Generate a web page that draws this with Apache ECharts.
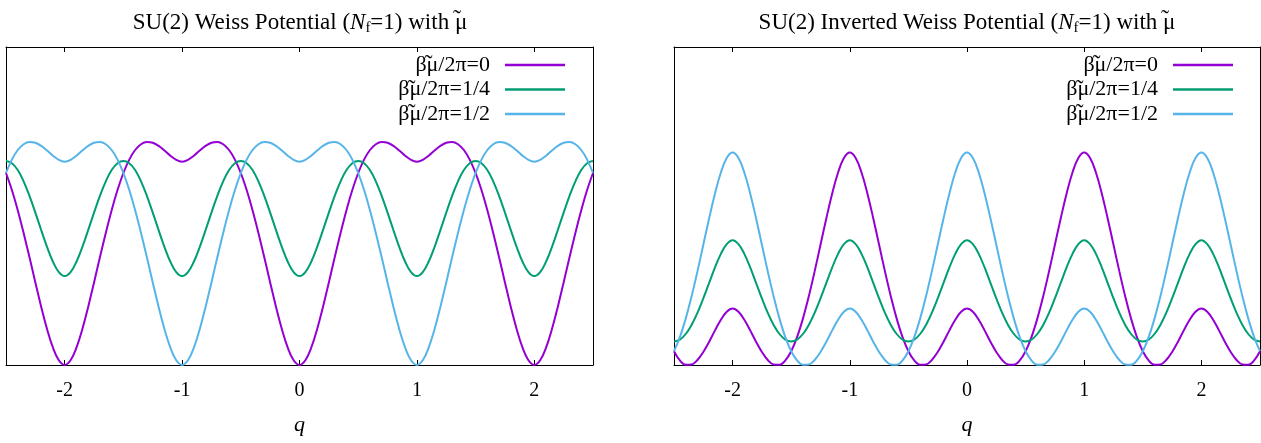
<!DOCTYPE html>
<html>
<head>
<meta charset="utf-8">
<title>SU(2) Weiss Potential</title>
<script src="https://cdn.jsdelivr.net/npm/echarts@6/dist/echarts.min.js"></script>
<style>
  html, body { margin: 0; padding: 0; background: #fff; }
  #chart { width: 1261px; height: 443px; }
</style>
</head>
<body>
<div id="chart"></div>
<script>
// q grid, -2.5 .. 2.5 in steps of 0.05
const qValues = [
  -2.5, -2.45, -2.4, -2.35, -2.3, -2.25, -2.2, -2.15, -2.1, -2.05,
  -2.0, -1.95, -1.9, -1.85, -1.8, -1.75, -1.7, -1.65, -1.6, -1.55,
  -1.5, -1.45, -1.4, -1.35, -1.3, -1.25, -1.2, -1.15, -1.1, -1.05,
  -1.0, -0.95, -0.9, -0.85, -0.8, -0.75, -0.7, -0.65, -0.6, -0.55,
  -0.5, -0.45, -0.4, -0.35, -0.3, -0.25, -0.2, -0.15, -0.1, -0.05,
  0.0, 0.05, 0.1, 0.15, 0.2, 0.25, 0.3, 0.35, 0.4, 0.45,
  0.5, 0.55, 0.6, 0.65, 0.7, 0.75, 0.8, 0.85, 0.9, 0.95,
  1.0, 1.05, 1.1, 1.15, 1.2, 1.25, 1.3, 1.35, 1.4, 1.45,
  1.5, 1.55, 1.6, 1.65, 1.7, 1.75, 1.8, 1.85, 1.9, 1.95,
  2.0, 2.05, 2.1, 2.15, 2.2, 2.25, 2.3, 2.35, 2.4, 2.45, 2.5
];
const qTicks = [-2, -1, 0, 1, 2];
const seriesNames = ['β\u03bc\u0303/2π=0', 'β\u03bc\u0303/2π=1/4', 'β\u03bc\u0303/2π=1/2'];
const colors = ['#9400d3', '#009e73', '#56b4e9'];

// left panel: Weiss potential (arbitrary units, 0 = bottom of frame)
const weissMu0 = [
  192.0, 175.0, 154.8, 132.1, 107.7, 82.6, 58.1, 35.8, 17.4, 4.7,
  0, 4.7, 17.4, 35.8, 58.1, 82.6, 107.7, 132.1, 154.8, 175.0,
  192.0, 205.4, 215.0, 220.8, 223.1, 222.3, 219.2, 214.4, 209.3, 205.1,
  203.3, 205.1, 209.3, 214.4, 219.2, 222.3, 223.1, 220.8, 215.0, 205.4,
  192.0, 175.0, 154.8, 132.1, 107.7, 82.6, 58.1, 35.8, 17.4, 4.7,
  0, 4.7, 17.4, 35.8, 58.1, 82.6, 107.7, 132.1, 154.8, 175.0,
  192.0, 205.4, 215.0, 220.8, 223.1, 222.3, 219.2, 214.4, 209.3, 205.1,
  203.3, 205.1, 209.3, 214.4, 219.2, 222.3, 223.1, 220.8, 215.0, 205.4,
  192.0, 175.0, 154.8, 132.1, 107.7, 82.6, 58.1, 35.8, 17.4, 4.7,
  0, 4.7, 17.4, 35.8, 58.1, 82.6, 107.7, 132.1, 154.8, 175.0, 192.0
];
const weissMuQuarter = [
  204.0, 201.8, 195.0, 183.7, 169.1, 152.4, 134.9, 117.9, 103.3, 92.9,
  88.9, 92.9, 103.3, 117.9, 134.9, 152.4, 169.1, 183.7, 195.0, 201.8,
  204.0, 201.8, 195.0, 183.7, 169.1, 152.4, 134.9, 117.9, 103.3, 92.9,
  88.9, 92.9, 103.3, 117.9, 134.9, 152.4, 169.1, 183.7, 195.0, 201.8,
  204.0, 201.8, 195.0, 183.7, 169.1, 152.4, 134.9, 117.9, 103.3, 92.9,
  88.9, 92.9, 103.3, 117.9, 134.9, 152.4, 169.1, 183.7, 195.0, 201.8,
  204.0, 201.8, 195.0, 183.7, 169.1, 152.4, 134.9, 117.9, 103.3, 92.9,
  88.9, 92.9, 103.3, 117.9, 134.9, 152.4, 169.1, 183.7, 195.0, 201.8,
  204.0, 201.8, 195.0, 183.7, 169.1, 152.4, 134.9, 117.9, 103.3, 92.9,
  88.9, 92.9, 103.3, 117.9, 134.9, 152.4, 169.1, 183.7, 195.0, 201.8, 204.0
];
const weissMuHalf = [
  192.0, 205.4, 215.0, 220.8, 223.1, 222.3, 219.2, 214.4, 209.3, 205.1,
  203.3, 205.1, 209.3, 214.4, 219.2, 222.3, 223.1, 220.8, 215.0, 205.4,
  192.0, 175.0, 154.8, 132.1, 107.7, 82.6, 58.1, 35.8, 17.4, 4.7,
  0, 4.7, 17.4, 35.8, 58.1, 82.6, 107.7, 132.1, 154.8, 175.0,
  192.0, 205.4, 215.0, 220.8, 223.1, 222.3, 219.2, 214.4, 209.3, 205.1,
  203.3, 205.1, 209.3, 214.4, 219.2, 222.3, 223.1, 220.8, 215.0, 205.4,
  192.0, 175.0, 154.8, 132.1, 107.7, 82.6, 58.1, 35.8, 17.4, 4.7,
  0, 4.7, 17.4, 35.8, 58.1, 82.6, 107.7, 132.1, 154.8, 175.0,
  192.0, 205.4, 215.0, 220.8, 223.1, 222.3, 219.2, 214.4, 209.3, 205.1,
  203.3, 205.1, 209.3, 214.4, 219.2, 222.3, 223.1, 220.8, 215.0, 205.4, 192.0
];

// right panel: inverted Weiss potential
const invMu0 = [
  13.8, 4.6, 0.2, 0.5, 5.0, 13.0, 23.3, 34.6, 45.2, 53.3,
  56.5, 53.3, 45.2, 34.6, 23.3, 13.0, 5.0, 0.5, 0.2, 4.6,
  13.8, 27.9, 46.4, 68.6, 93.6, 120.2, 146.8, 171.6, 192.5, 207.0,
  212.5, 207.0, 192.5, 171.6, 146.8, 120.2, 93.6, 68.6, 46.4, 27.9,
  13.8, 4.6, 0.2, 0.5, 5.0, 13.0, 23.3, 34.6, 45.2, 53.3,
  56.5, 53.3, 45.2, 34.6, 23.3, 13.0, 5.0, 0.5, 0.2, 4.6,
  13.8, 27.9, 46.4, 68.6, 93.6, 120.2, 146.8, 171.6, 192.5, 207.0,
  212.5, 207.0, 192.5, 171.6, 146.8, 120.2, 93.6, 68.6, 46.4, 27.9,
  13.8, 4.6, 0.2, 0.5, 5.0, 13.0, 23.3, 34.6, 45.2, 53.3,
  56.5, 53.3, 45.2, 34.6, 23.3, 13.0, 5.0, 0.5, 0.2, 4.6, 13.8
];
const invMuQuarter = [
  23.6, 25.4, 31.0, 40.1, 52.2, 66.6, 82.2, 97.6, 111.1, 120.9,
  124.8, 120.9, 111.1, 97.6, 82.2, 66.6, 52.2, 40.1, 31.0, 25.4,
  23.6, 25.4, 31.0, 40.1, 52.2, 66.6, 82.2, 97.6, 111.1, 120.9,
  124.8, 120.9, 111.1, 97.6, 82.2, 66.6, 52.2, 40.1, 31.0, 25.4,
  23.6, 25.4, 31.0, 40.1, 52.2, 66.6, 82.2, 97.6, 111.1, 120.9,
  124.8, 120.9, 111.1, 97.6, 82.2, 66.6, 52.2, 40.1, 31.0, 25.4,
  23.6, 25.4, 31.0, 40.1, 52.2, 66.6, 82.2, 97.6, 111.1, 120.9,
  124.8, 120.9, 111.1, 97.6, 82.2, 66.6, 52.2, 40.1, 31.0, 25.4,
  23.6, 25.4, 31.0, 40.1, 52.2, 66.6, 82.2, 97.6, 111.1, 120.9,
  124.8, 120.9, 111.1, 97.6, 82.2, 66.6, 52.2, 40.1, 31.0, 25.4, 23.6
];
const invMuHalf = [
  13.8, 27.9, 46.4, 68.6, 93.6, 120.2, 146.8, 171.6, 192.5, 207.0,
  212.5, 207.0, 192.5, 171.6, 146.8, 120.2, 93.6, 68.6, 46.4, 27.9,
  13.8, 4.6, 0.2, 0.5, 5.0, 13.0, 23.3, 34.6, 45.2, 53.3,
  56.5, 53.3, 45.2, 34.6, 23.3, 13.0, 5.0, 0.5, 0.2, 4.6,
  13.8, 27.9, 46.4, 68.6, 93.6, 120.2, 146.8, 171.6, 192.5, 207.0,
  212.5, 207.0, 192.5, 171.6, 146.8, 120.2, 93.6, 68.6, 46.4, 27.9,
  13.8, 4.6, 0.2, 0.5, 5.0, 13.0, 23.3, 34.6, 45.2, 53.3,
  56.5, 53.3, 45.2, 34.6, 23.3, 13.0, 5.0, 0.5, 0.2, 4.6,
  13.8, 27.9, 46.4, 68.6, 93.6, 120.2, 146.8, 171.6, 192.5, 207.0,
  212.5, 207.0, 192.5, 171.6, 146.8, 120.2, 93.6, 68.6, 46.4, 27.9, 13.8
];

const FONT = 'Liberation Serif';
const pair = arr => qValues.map((q, i) => [q, arr[i]]);
// gnuplot-style tilde drawn over the mu: zero-width token placed before it
const withTilde = s => s.replace('\u03bc\u0303', '{t|\u02dc}\u03bc');

const titleRich = {
  i: { fontFamily: FONT, fontSize: 23, fontStyle: 'italic', color: '#000' },
  s: { fontFamily: FONT, fontSize: 15, color: '#000', padding: [10, 0, 0, 0] },
  t: { fontFamily: FONT, fontSize: 24, color: '#000', width: -4, align: 'left', padding: [0, 0, 6, 4] }
};
const makeTitle = (text, x) => ({
  text: withTilde(text),
  left: x,
  top: 3,
  textAlign: 'center',
  textStyle: { fontFamily: FONT, fontSize: 23, fontWeight: 'normal', color: '#000', rich: titleRich }
});

const bottomAxis = gi => ({
  type: 'value', gridIndex: gi, position: 'bottom', min: -2.5, max: 2.5,
  axisLine: { show: true, onZero: false, lineStyle: { color: '#000', width: 1 } },
  axisTick: { show: true, inside: true, length: 5, customValues: qTicks, lineStyle: { color: '#000' } },
  axisLabel: { customValues: qTicks, margin: 16, fontFamily: FONT, fontSize: 20, color: '#000' },
  splitLine: { show: false },
  name: 'q', nameLocation: 'middle', nameGap: 49,
  nameTextStyle: { fontFamily: FONT, fontSize: 22, fontStyle: 'italic', color: '#000' }
});
const topAxis = gi => ({
  type: 'value', gridIndex: gi, position: 'top', min: -2.5, max: 2.5,
  axisLine: { show: true, onZero: false, lineStyle: { color: '#000', width: 1 } },
  axisTick: { show: true, inside: true, length: 5, customValues: qTicks, lineStyle: { color: '#000' } },
  axisLabel: { show: false },
  splitLine: { show: false }
});
const sideAxis = (gi, pos) => ({
  type: 'value', gridIndex: gi, position: pos, min: 0, max: 318,
  axisLine: { show: true, onZero: false, lineStyle: { color: '#000', width: 1 } },
  axisTick: { show: false },
  axisLabel: { show: false },
  splitLine: { show: false }
});
const makeLegend = right => ({
  data: seriesNames,
  orient: 'vertical',
  align: 'right',
  right: right,
  top: 53,
  padding: 0,
  icon: 'rect',
  itemWidth: 60,
  itemHeight: 2.5,
  itemGap: 0.5,
  selectedMode: false,
  formatter: withTilde,
  textStyle: {
    fontFamily: FONT, fontSize: 22, lineHeight: 22, color: '#000', padding: [0, 10, 0, 0],
    rich: { t: { fontFamily: FONT, fontSize: 24, lineHeight: 22, color: '#000', width: -4, align: 'left', padding: [0, 0, 0, 4] } }
  }
});
const makeSeries = (name, data, color, axisIdx) => ({
  name: name,
  type: 'line',
  xAxisIndex: axisIdx,
  yAxisIndex: axisIdx,
  data: pair(data),
  smooth: 0.4,
  symbol: 'none',
  clip: true,
  lineStyle: { color: color, width: 2 },
  itemStyle: { color: color }
});

const chart = echarts.init(document.getElementById('chart'), null, { renderer: 'canvas' });
chart.setOption({
  animation: false,
  backgroundColor: '#fff',
  title: [
    makeTitle('SU(2) Weiss Potential ({i|N}{s|f}=1) with \u03bc\u0303', 295),
    makeTitle('SU(2) Inverted Weiss Potential ({i|N}{s|f}=1) with \u03bc\u0303', 962)
  ],
  legend: [makeLegend(696), makeLegend(28)],
  grid: [
    { left: 6, top: 47, width: 587, height: 318, containLabel: false },
    { left: 674, top: 47, width: 586, height: 318, containLabel: false }
  ],
  xAxis: [bottomAxis(0), topAxis(0), bottomAxis(1), topAxis(1)],
  yAxis: [sideAxis(0, 'left'), sideAxis(0, 'right'), sideAxis(1, 'left'), sideAxis(1, 'right')],
  series: [
    makeSeries(seriesNames[0], weissMu0, colors[0], 0),
    makeSeries(seriesNames[1], weissMuQuarter, colors[1], 0),
    makeSeries(seriesNames[2], weissMuHalf, colors[2], 0),
    makeSeries(seriesNames[0], invMu0, colors[0], 2),
    makeSeries(seriesNames[1], invMuQuarter, colors[1], 2),
    makeSeries(seriesNames[2], invMuHalf, colors[2], 2)
  ]
});
</script>
</body>
</html>
